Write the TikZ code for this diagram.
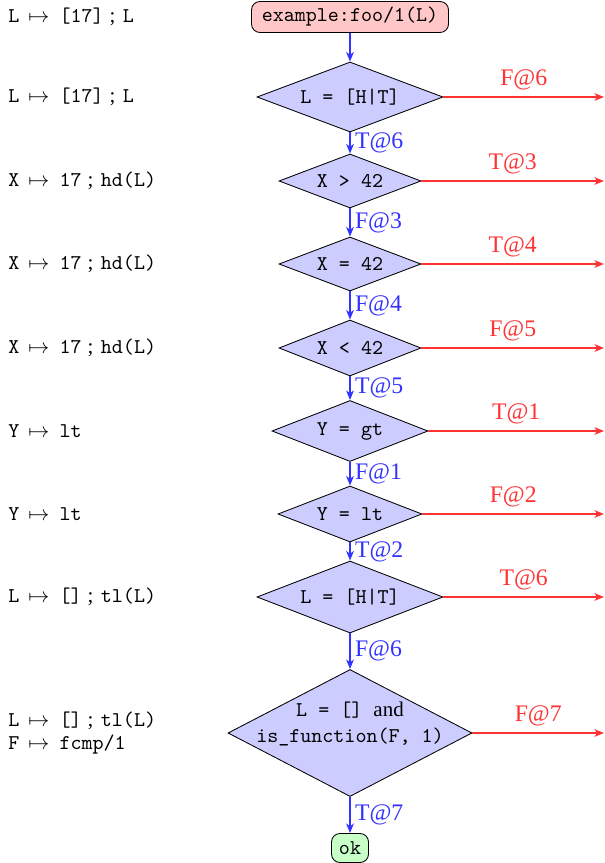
\documentclass[tikz,border=0pt]{standalone}
\usepackage{fontspec}
\setmainfont{Liberation Serif}
\setmonofont{Latin Modern Mono}
\usetikzlibrary{shapes.geometric,arrows.meta}
\newcommand\mymto{\hspace{4.3pt}$\mapsto$\hspace{4.8pt}}
\newcommand\mysep{\hspace{2.8pt};\hspace{3.6pt}}
\begin{document}
\begin{tikzpicture}[x=0.476pt,y=-0.476pt,
  dec/.style={diamond, draw, fill=blue!20, inner sep=0pt, line width=0.4pt},
  dtext/.style={font=\ttfamily, align=center, inner sep=0pt},
  term/.style={rectangle, rounded corners=4pt, draw, inner sep=0pt, font=\ttfamily, line width=0.4pt},
  yesarr/.style={-{Stealth[length=4.5pt,width=3.6pt,inset=1.2pt]}, draw=blue!80, line width=0.8pt},
  noarr/.style={-{Stealth[length=4.5pt,width=3.6pt,inset=1.2pt]}, draw=red!80, line width=0.8pt},
  bl/.style={text=blue!80, font=\fontsize{11.3}{13}\selectfont, right, inner sep=2pt},
  rl/.style={text=red!80, font=\fontsize{11.3}{13}\selectfont, above, inner sep=3pt},
  lhs/.style={anchor=west, inner sep=0pt, align=left, font=\ttfamily}
]
\useasboundingbox (0,0) rectangle (604,863);

% main chain
\node[term, fill=red!22, minimum width=197*0.476pt, minimum height=31*0.476pt] (s) at (350,17) {example:foo/1(L)};
\node[dec, minimum width=186*0.476pt, minimum height=70*0.476pt] (d1) at (350,97) {};
\node[dec, minimum width=142*0.476pt, minimum height=54*0.476pt] (d2) at (350,181) {};
\node[dec, minimum width=142*0.476pt, minimum height=54*0.476pt] (d3) at (350,264) {};
\node[dec, minimum width=142*0.476pt, minimum height=56*0.476pt] (d4) at (350,348) {};
\node[dec, minimum width=156*0.476pt, minimum height=61*0.476pt] (d5) at (350,431) {};
\node[dec, minimum width=144*0.476pt, minimum height=56*0.476pt] (d6) at (350,514) {};
\node[dec, minimum width=186*0.476pt, minimum height=72*0.476pt] (d7) at (350,597) {};
\node[dec, minimum width=244*0.476pt, minimum height=127*0.476pt] (d8) at (350,733) {};
\node[term, fill=green!22, minimum width=37*0.476pt, minimum height=29*0.476pt] (ok) at (350,848) {ok};

\node[dtext] (t1) at (d1) {L = [H|T]};
\node[dtext] (t2) at (d2) {X > 42};
\node[dtext] (t3) at (d3) {X = 42};
\node[dtext] (t4) at (d4) {X < 42};
\node[dtext] (t5) at (d5) {Y = gt};
\node[dtext] (t6) at (d6) {Y = lt};
\node[dtext] (t7) at (d7) {L = [H|T]};
\node[dtext] (t8) at (350,724) {L = [] {\rmfamily and}\\[0pt]is\_function(F, 1)};

% right ends
\coordinate (e1) at (604,97);
\coordinate (e2) at (604,181);
\coordinate (e3) at (604,264);
\coordinate (e4) at (604,348);
\coordinate (e5) at (604,431);
\coordinate (e6) at (604,514);
\coordinate (e7) at (604,597);
\coordinate (e8) at (604,733);

% down arrows
\draw[yesarr] (s) -- (d1);
\draw[yesarr] (d1) -- node[bl] {T@6} (d2);
\draw[yesarr] (d2) -- node[bl] {F@3} (d3);
\draw[yesarr] (d3) -- node[bl] {F@4} (d4);
\draw[yesarr] (d4) -- node[bl] {T@5} (d5);
\draw[yesarr] (d5) -- node[bl] {F@1} (d6);
\draw[yesarr] (d6) -- node[bl] {T@2} (d7);
\draw[yesarr] (d7) -- node[bl] {F@6} (d8);
\draw[yesarr] (d8) -- node[bl] {T@7} (ok);

% right arrows
\draw[noarr] (d1.east) -- node[rl] {F@6} (e1);
\draw[noarr] (d2.east) -- node[rl] {T@3} (e2);
\draw[noarr] (d3.east) -- node[rl] {T@4} (e3);
\draw[noarr] (d4.east) -- node[rl] {F@5} (e4);
\draw[noarr] (d5.east) -- node[rl] {T@1} (e5);
\draw[noarr] (d6.east) -- node[rl] {F@2} (e6);
\draw[noarr] (d7.east) -- node[rl] {T@6} (e7);
\draw[noarr] (d8.east) -- node[rl] {F@7} (e8);

% left annotations
\node[lhs] (l1) at (8,17) {L\mymto[17]{\rmfamily\mysep}L};
\node[lhs] (l2) at (8,97) {L\mymto[17]{\rmfamily\mysep}L};
\node[lhs] (l3) at (8,181) {X\mymto17{\rmfamily\mysep}hd(L)};
\node[lhs] (l4) at (8,264) {X\mymto17{\rmfamily\mysep}hd(L)};
\node[lhs] (l5) at (8,348) {X\mymto17{\rmfamily\mysep}hd(L)};
\node[lhs] (l6) at (8,431) {Y\mymto lt};
\node[lhs] (l7) at (8,514) {Y\mymto lt};
\node[lhs] (l8) at (8,597) {L\mymto[]{\rmfamily\mysep}tl(L)};
\node[lhs] (l9) at (8,733) {L\mymto[]{\rmfamily\mysep}tl(L)\\[-1pt]F\mymto fcmp/1};
\end{tikzpicture}
\end{document}
